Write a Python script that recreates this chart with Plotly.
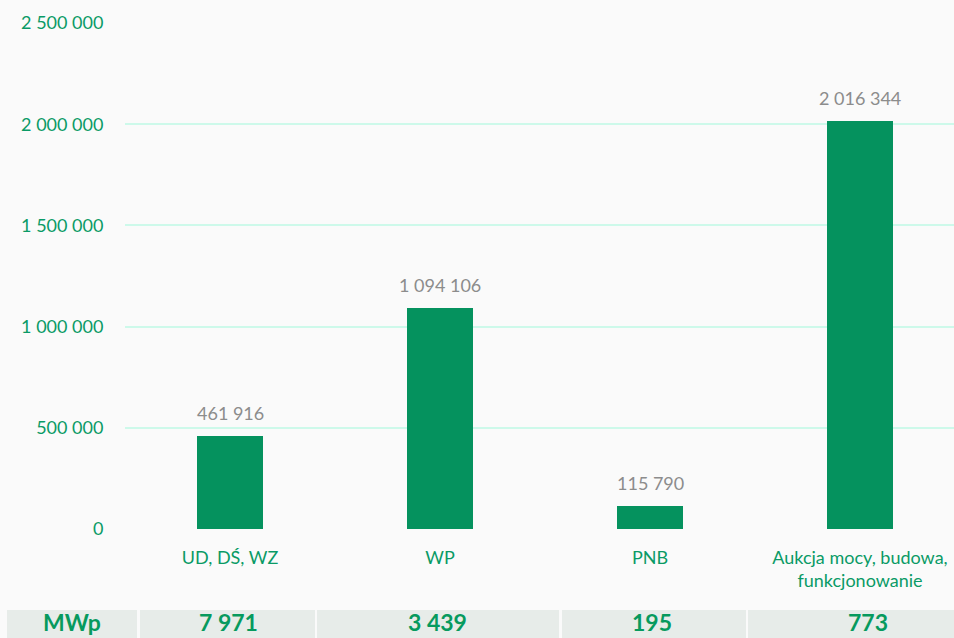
import plotly.graph_objects as go

categories = ["UD, DŚ, WZ", "WP", "PNB", "Aukcja mocy, budowa,<br>funkcjonowanie"]
values = [461916, 1094106, 115790, 2016344]
table_label = "MWp"
table_values = ["7 971", "3 439", "195", "773"]
y_ticks = [0, 500000, 1000000, 1500000, 2000000, 2500000]

W, H = 954, 638
ML, MR, MT, MB = 125, 0, 23, 109
PW = W - ML - MR
PH = H - MT - MB

GREEN = "#05925E"
TXT_GREEN = "#0A9A66"
GRID = "#CDF9EA"
BG = "#FAFAFA"
FONT = "Lato, Open Sans, sans-serif"

def fmt(v):
    return f"{v:,}".replace(",", " ")

x_idx = list(range(len(categories)))

fig = go.Figure()
fig.add_trace(go.Bar(x=x_idx, y=values, marker=dict(color=GREEN, line=dict(width=0)),
                     width=0.314, hoverinfo="skip"))

annotations = []
for i, v in zip(x_idx, values):
    annotations.append(dict(x=i, y=v, xref="x", yref="y", text=fmt(v), showarrow=False,
                            yanchor="bottom", yshift=10,
                            font=dict(family=FONT, size=18, color="#8C8C8C")))

def px_x(p):
    return (p - ML) / PW

def px_y(p):
    return (H - MB - p) / PH

# table cells (pixel boundaries)
cells = [(7, 137), (140, 315), (317, 559), (562, 746), (748, 1000)]
texts = [table_label] + table_values
text_centers = [72, 228, 437, 652, 868]
shapes = []
for (a, b), t, c in zip(cells, texts, text_centers):
    shapes.append(dict(type="rect", xref="paper", yref="paper",
                       x0=px_x(a), x1=px_x(b), y0=px_y(610), y1=px_y(660),
                       fillcolor="#E7ECE9", line=dict(width=0), layer="below"))
    annotations.append(dict(x=px_x(c), y=px_y(638), xref="paper", yref="paper",
                            text="<b>" + t + "</b>", showarrow=False,
                            xanchor="center", yanchor="bottom",
                            font=dict(family=FONT, size=23, color="#079A5E")))

fig.update_layout(
    width=W, height=H,
    margin=dict(l=ML, r=MR, t=MT, b=MB, pad=0),
    paper_bgcolor=BG, plot_bgcolor=BG,
    showlegend=False,
    font=dict(family=FONT, size=18, color=TXT_GREEN),
    xaxis=dict(range=[-0.5, -0.5 + PW / 210], tickmode="array", tickvals=x_idx,
               ticktext=categories, showgrid=False, zeroline=False, showline=False,
               ticks="outside", ticklen=12, tickcolor="rgba(0,0,0,0)",
               tickfont=dict(family=FONT, size=18, color=TXT_GREEN), fixedrange=True),
    yaxis=dict(range=[0, 2500000], tickmode="array", tickvals=y_ticks,
               ticktext=[fmt(v) for v in y_ticks],
               showgrid=True, gridcolor=GRID, gridwidth=2, zeroline=False, showline=False,
               ticks="outside", ticklen=17, tickcolor="rgba(0,0,0,0)",
               tickfont=dict(family=FONT, size=18, color=TXT_GREEN), fixedrange=True),
    shapes=shapes,
    annotations=annotations,
    bargap=0,
)

fig.write_html("out.html", config={"displayModeBar": False})
